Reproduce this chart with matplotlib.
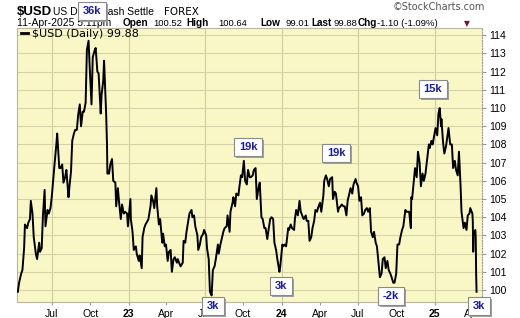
import matplotlib
matplotlib.use("Agg")
import matplotlib.pyplot as plt
from matplotlib.patches import Rectangle
import pandas as pd

plt.rcParams['font.family'] = ['Liberation Sans', 'DejaVu Sans']

# $USD daily close (roughly twice a week)
dates = [
    "2022-04-11", "2022-04-14", "2022-04-19", "2022-04-22", "2022-04-26", "2022-04-28",
    "2022-05-03", "2022-05-06", "2022-05-10", "2022-05-12", "2022-05-16", "2022-05-19",
    "2022-05-24", "2022-05-27", "2022-06-01", "2022-06-03", "2022-06-07", "2022-06-10",
    "2022-06-14", "2022-06-16", "2022-06-21", "2022-06-24", "2022-06-28", "2022-07-01",
    "2022-07-06", "2022-07-08", "2022-07-12", "2022-07-14", "2022-07-19", "2022-07-22",
    "2022-07-26", "2022-07-29", "2022-08-02", "2022-08-05", "2022-08-10", "2022-08-12",
    "2022-08-16", "2022-08-19", "2022-08-23", "2022-08-26", "2022-08-30", "2022-09-02",
    "2022-09-06", "2022-09-09", "2022-09-13", "2022-09-16", "2022-09-20", "2022-09-23",
    "2022-09-27", "2022-09-30", "2022-10-04", "2022-10-07", "2022-10-12", "2022-10-14",
    "2022-10-18", "2022-10-21", "2022-10-26", "2022-10-28", "2022-11-01", "2022-11-03",
    "2022-11-08", "2022-11-10", "2022-11-11", "2022-11-15", "2022-11-18", "2022-11-22",
    "2022-11-25", "2022-11-30", "2022-12-02", "2022-12-06", "2022-12-09", "2022-12-13",
    "2022-12-16", "2022-12-20", "2022-12-23", "2022-12-28", "2022-12-30",
    "2023-01-05", "2023-01-06", "2023-01-10", "2023-01-13", "2023-01-18", "2023-01-20",
    "2023-01-25", "2023-01-27", "2023-02-01", "2023-02-03", "2023-02-07", "2023-02-10",
    "2023-02-15", "2023-02-17", "2023-02-22", "2023-02-24", "2023-02-28", "2023-03-03",
    "2023-03-08", "2023-03-10", "2023-03-14", "2023-03-17", "2023-03-22", "2023-03-24",
    "2023-03-28", "2023-03-31", "2023-04-04", "2023-04-07", "2023-04-11", "2023-04-14",
    "2023-04-18", "2023-04-21", "2023-04-26", "2023-04-28", "2023-05-03", "2023-05-05",
    "2023-05-10", "2023-05-12", "2023-05-16", "2023-05-19", "2023-05-24", "2023-05-26",
    "2023-05-31", "2023-06-02", "2023-06-06", "2023-06-09", "2023-06-14", "2023-06-16",
    "2023-06-20", "2023-06-23", "2023-06-28", "2023-06-30", "2023-07-05", "2023-07-07",
    "2023-07-11", "2023-07-14", "2023-07-18", "2023-07-21", "2023-07-25", "2023-07-28",
    "2023-08-02", "2023-08-04", "2023-08-08", "2023-08-11", "2023-08-15", "2023-08-18",
    "2023-08-23", "2023-08-25", "2023-08-30", "2023-09-01", "2023-09-06", "2023-09-08",
    "2023-09-12", "2023-09-15", "2023-09-20", "2023-09-22", "2023-09-26", "2023-09-29",
    "2023-10-03", "2023-10-06", "2023-10-10", "2023-10-13", "2023-10-17", "2023-10-20",
    "2023-10-24", "2023-10-27", "2023-10-31", "2023-11-03", "2023-11-07", "2023-11-10",
    "2023-11-14", "2023-11-17", "2023-11-21", "2023-11-24", "2023-11-28", "2023-12-01",
    "2023-12-05", "2023-12-08", "2023-12-12", "2023-12-15", "2023-12-19", "2023-12-22",
    "2023-12-27", "2023-12-29",
    "2024-01-03", "2024-01-05", "2024-01-09", "2024-01-12", "2024-01-17", "2024-01-19",
    "2024-01-23", "2024-01-26", "2024-01-31", "2024-02-02", "2024-02-05", "2024-02-09",
    "2024-02-13", "2024-02-16", "2024-02-21", "2024-02-23", "2024-02-28", "2024-03-01",
    "2024-03-05", "2024-03-08", "2024-03-12", "2024-03-15", "2024-03-19", "2024-03-22",
    "2024-03-26", "2024-03-28", "2024-04-02", "2024-04-05", "2024-04-10", "2024-04-12",
    "2024-04-16", "2024-04-19", "2024-04-23", "2024-04-26", "2024-05-01", "2024-05-03",
    "2024-05-07", "2024-05-10", "2024-05-15", "2024-05-17", "2024-05-21", "2024-05-24",
    "2024-05-28", "2024-05-31", "2024-06-04", "2024-06-07", "2024-06-11", "2024-06-14",
    "2024-06-18", "2024-06-21", "2024-06-26", "2024-06-28", "2024-07-02", "2024-07-05",
    "2024-07-09", "2024-07-12", "2024-07-16", "2024-07-19", "2024-07-23", "2024-07-26",
    "2024-07-30", "2024-08-02", "2024-08-06", "2024-08-09", "2024-08-13", "2024-08-16",
    "2024-08-20", "2024-08-23", "2024-08-27", "2024-08-30", "2024-09-03", "2024-09-06",
    "2024-09-10", "2024-09-13", "2024-09-17", "2024-09-20", "2024-09-24", "2024-09-27",
    "2024-10-01", "2024-10-04", "2024-10-08", "2024-10-11", "2024-10-15", "2024-10-18",
    "2024-10-23", "2024-10-25", "2024-10-29", "2024-11-01", "2024-11-05", "2024-11-06",
    "2024-11-08", "2024-11-12", "2024-11-15", "2024-11-19", "2024-11-22", "2024-11-26",
    "2024-11-29", "2024-12-03", "2024-12-06", "2024-12-10", "2024-12-13", "2024-12-18",
    "2024-12-20", "2024-12-24", "2024-12-27", "2024-12-31",
    "2025-01-03", "2025-01-07", "2025-01-10", "2025-01-13", "2025-01-16", "2025-01-17",
    "2025-01-21", "2025-01-24", "2025-01-28", "2025-01-31", "2025-02-03", "2025-02-07",
    "2025-02-11", "2025-02-14", "2025-02-18", "2025-02-21", "2025-02-25", "2025-02-28",
    "2025-03-04", "2025-03-06", "2025-03-11", "2025-03-14", "2025-03-18", "2025-03-21",
    "2025-03-25", "2025-03-27", "2025-04-01", "2025-04-02", "2025-04-03", "2025-04-04",
    "2025-04-08", "2025-04-09", "2025-04-10", "2025-04-11",
]
closes = [
    99.9, 100.4, 100.9, 101.1, 102.3, 103.6,
    103.4, 103.7, 103.9, 104.9, 104.2, 102.9,
    102.0, 101.7, 102.6, 102.1, 102.3, 104.1,
    105.5, 103.5, 104.4, 104.2, 104.5, 105.1,
    106.5, 107.0, 108.0, 108.6, 106.7, 106.7,
    106.9, 105.9, 106.2, 106.6, 105.1, 105.6,
    106.5, 108.2, 108.6, 108.8, 108.8, 109.6,
    110.2, 109.0, 109.8, 109.8, 110.3, 113.2,
    113.7, 112.1, 110.2, 112.8, 113.2, 113.3,
    112.0, 111.9, 109.7, 110.7, 111.5, 112.6,
    109.7, 108.0, 106.4, 106.4, 106.9, 107.2,
    106.0, 105.9, 104.6, 105.6, 104.8, 103.9,
    104.7, 104.2, 104.3, 104.2, 103.5,
    105.0, 103.9, 103.2, 102.2, 102.4, 102.0,
    101.6, 101.9, 101.2, 102.9, 103.4, 103.6,
    103.8, 103.9, 104.6, 105.2, 104.9, 104.5,
    105.6, 104.6, 103.6, 103.9, 102.6, 103.1,
    102.4, 102.5, 101.6, 102.1, 102.2, 101.0,
    101.7, 101.8, 101.5, 101.7, 101.4, 101.3,
    101.5, 102.7, 102.6, 103.2, 103.9, 104.2,
    104.4, 104.0, 104.1, 103.5, 103.0, 102.2,
    102.5, 102.9, 103.1, 103.3, 103.0, 102.3,
    101.7, 99.9, 99.7, 101.1, 101.3, 101.7,
    102.5, 102.0, 102.5, 102.8, 103.2, 103.4,
    103.5, 104.1, 103.2, 104.3, 104.8, 105.1,
    104.6, 105.3, 105.2, 105.6, 106.3, 106.2,
    107.1, 106.0, 105.8, 106.6, 106.2, 106.2,
    106.3, 106.6, 106.7, 105.0, 105.6, 105.9,
    104.0, 103.9, 103.4, 103.4, 102.8, 103.3,
    103.9, 104.0, 103.9, 102.6, 102.2, 101.7,
    101.0, 101.3,
    102.5, 102.4, 102.5, 102.4, 103.4, 103.3,
    103.6, 103.4, 103.3, 103.9, 104.4, 104.1,
    104.9, 104.3, 104.0, 103.9, 104.1, 103.8,
    103.8, 102.7, 102.9, 103.4, 103.8, 104.4,
    104.3, 104.5, 104.8, 104.3, 105.2, 106.0,
    106.3, 106.1, 105.7, 106.1, 106.2, 105.0,
    105.4, 105.3, 104.3, 104.5, 104.6, 104.7,
    104.6, 104.6, 104.1, 104.9, 105.3, 105.6,
    105.3, 105.8, 106.1, 105.9, 105.7, 104.9,
    105.1, 104.1, 104.2, 104.4, 104.5, 104.3,
    104.5, 103.2, 102.9, 103.2, 102.6, 102.4,
    101.4, 100.7, 100.9, 101.7, 101.8, 101.2,
    101.6, 101.1, 100.9, 100.7, 100.4, 100.4,
    100.9, 102.5, 102.5, 102.9, 103.3, 103.5,
    104.4, 104.3, 104.3, 104.3, 103.4, 105.1,
    105.0, 106.0, 106.7, 106.2, 107.6, 107.0,
    105.7, 106.4, 106.0, 106.4, 107.0, 108.0,
    107.8, 108.2, 108.0, 108.5,
    108.9, 108.5, 109.7, 110.0, 109.0, 109.4,
    108.1, 107.5, 107.9, 108.4, 108.9, 108.0,
    108.0, 106.7, 107.1, 106.6, 106.3, 107.6,
    105.6, 104.3, 103.4, 103.7, 103.3, 104.1,
    104.2, 104.5, 104.2, 103.8, 102.1, 103.0,
    103.3, 102.9, 100.9, 99.9,
]

# volume-style call-out boxes on the chart
box_labels = ["36k", "19k", "19k", "15k", "3k", "3k", "-2k", "3k"]
box_pos = [(92, 11), (248, 147), (336, 153), (433, 89),
           (213, 306), (281, 286), (391, 296), (479, 306)]

W, H = 520, 318
fig = plt.figure(figsize=(W / 100, H / 100), dpi=100)
fig.patch.set_facecolor("white")


def fx(x):
    return x / W


def fy(y):
    return 1 - y / H


ax = fig.add_axes([fx(17), fy(302), fx(482) - fx(17), fy(28) - fy(302)])
ax.set_facecolor("#faf7c6")

x = pd.to_datetime(dates)
ax.plot(x, closes, color="black", lw=1.4, zorder=3)

ax.set_xlim(pd.Timestamp("2022-04-09"), pd.Timestamp("2025-04-24"))
ax.set_ylim(99.34, 114.4)

# y axis on the right
ax.yaxis.tick_right()
ax.set_yticks(range(100, 115))
ax.tick_params(axis="y", labelsize=7.5, length=3, color="#999999", pad=2)
ax.grid(axis="y", color="#d6d3a8", lw=0.8, zorder=1)

# vertical grid only at Jan / Jul
for d in pd.date_range("2022-07-01", "2025-01-01", freq="6MS"):
    ax.axvline(d, color="#cfcca2", lw=0.8, zorder=1)

ticks = pd.date_range("2022-07-01", "2025-04-01", freq="3MS")
ax.set_xticks(ticks)
ax.set_xticklabels([t.strftime("%y") if t.month == 1 else t.strftime("%b") for t in ticks])
for t, lab in zip(ticks, ax.get_xticklabels()):
    if t.month == 1:
        lab.set_fontweight("bold")
ax.tick_params(axis="x", labelsize=7.5, length=2, color="#999999", pad=3)

for s in ["left", "top", "bottom"]:
    ax.spines[s].set_color("#b8b6a0")
    ax.spines[s].set_linewidth(0.8)
ax.spines["right"].set_color("#9a9a90")
ax.spines["right"].set_linestyle((0, (1, 1.5)))
ax.spines["right"].set_linewidth(0.8)

# legend line inside plot
fig.add_artist(plt.Line2D([fx(21), fx(28)], [fy(33), fy(33)], color="black", lw=2))
fig.text(fx(32), fy(37), "$USD (Daily) 99.88", fontsize=8, family="DejaVu Sans")

# header
fig.text(fx(17), fy(15), "$USD", fontsize=9.5, weight="bold")
fig.text(fx(53), fy(15), "US Dollar Cash Settle", fontsize=7.5)
fig.text(fx(164), fy(15), "FOREX", fontsize=7.5, family="DejaVu Sans")
fig.text(fx(17), fy(26), "11-Apr-2025 5:11pm", fontsize=7.5)
hdr = [(123, "Open", True), (153, "100.52", False), (186, "High", True), (218, "100.64", False),
       (260, "Low", True), (286, "99.01", False), (311, "Last", True), (334, "99.88", False),
       (358, "Chg", True), (377, "-1.10 (-1.09%)", False)]
for px, s, b in hdr:
    fig.text(fx(px), fy(26), s, fontsize=7.2 if b else 6.8, weight="bold" if b else "normal")
fig.text(fx(464), fy(26), "\u25bc", fontsize=5.5, color="#7a1030", family="DejaVu Sans")
fig.text(fx(393), fy(10), "\u00a9StockCharts.com", fontsize=7, color="#555555", family="DejaVu Sans")

# call-out boxes, grey drop shadow added once the box size is known
boxes = []
for lab, (bx, by) in zip(box_labels, box_pos):
    t = fig.text(fx(bx), fy(by), lab, fontsize=8, weight="bold", color="#1a1aa8",
                 ha="center", va="center", zorder=21,
                 bbox=dict(boxstyle="square,pad=0.4", fc="white", ec="#8a8a8a", lw=0.8))
    boxes.append(t)

fig.canvas.draw()
r = fig.canvas.get_renderer()
for t in boxes:
    bb = t.get_bbox_patch().get_window_extent(r)
    fig.add_artist(Rectangle((bb.x0 + 2, bb.y0 - 2), bb.width, bb.height, transform=None,
                             fc="#a0a0a0", ec="none", zorder=20))

fig.savefig("out.png", dpi=100)
